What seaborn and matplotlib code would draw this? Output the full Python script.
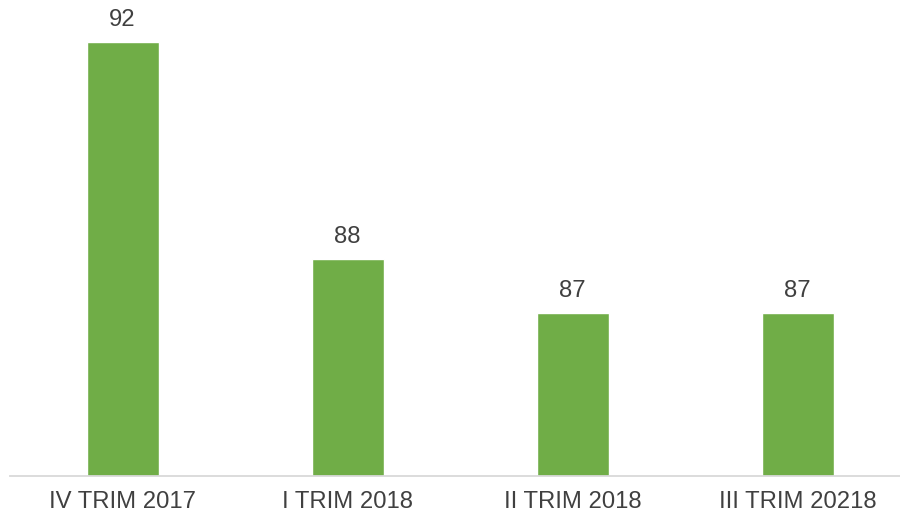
import matplotlib
matplotlib.use("Agg")
import matplotlib.pyplot as plt
import seaborn as sns
import pandas as pd

# data
periods = ["IV TRIM 2017", "I TRIM 2018", "II TRIM 2018", "III TRIM 20218"]
values = [92, 88, 87, 87]

df = pd.DataFrame({"period": periods, "value": values})

sns.set_theme(style="white")
plt.rcParams["font.family"] = ["Liberation Sans", "DejaVu Sans"]

text_color = "#404040"
bar_color = "#70AD47"

fig = plt.figure(figsize=(9, 5.16), dpi=100)
# axis baseline sits ~40px above the bottom, one unit ~54px tall
y_lo, y_hi = 84, 92.75
unit_px = 54.2
ax = fig.add_axes([10 / 900, 40 / 516, 900 / 900, (y_hi - y_lo) * unit_px / 516])

sns.barplot(data=df, x="period", y="value", color=bar_color, saturation=1,
            width=0.32, ax=ax)

ax.set_ylim(y_lo, y_hi)
ax.set_xlim(-0.5, 3.5)
ax.set_xlabel("")
ax.set_ylabel("")
ax.set_yticks([])

for side in ["left", "right", "top"]:
    ax.spines[side].set_visible(False)
ax.spines["bottom"].set_color("#D9D9D9")
ax.spines["bottom"].set_linewidth(1.3)

ax.tick_params(axis="x", length=0, pad=11, labelsize=17.2, labelcolor=text_color)

ax.bar_label(ax.containers[0], labels=[str(v) for v in values], padding=8,
             fontsize=17.2, color=text_color)

fig.savefig("out.png", dpi=100)
